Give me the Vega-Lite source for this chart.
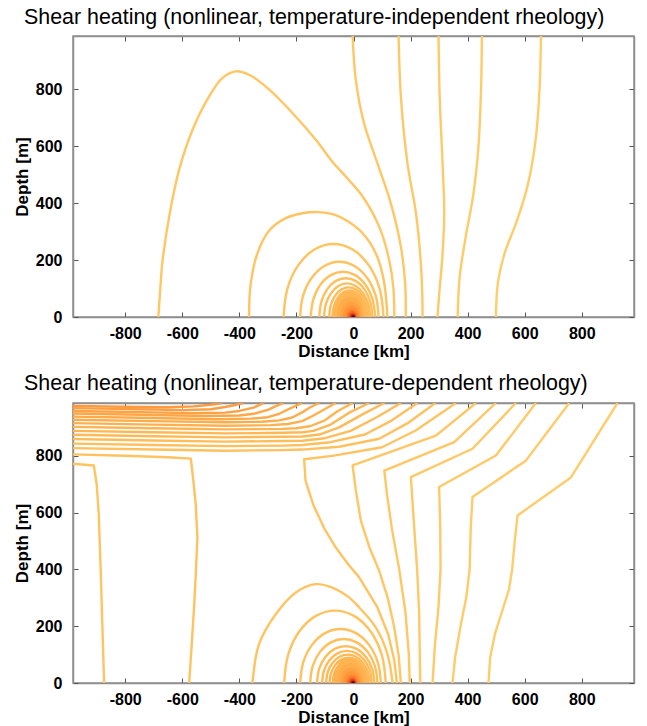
{
"$schema": "https://vega.github.io/schema/vega-lite/v6.json",
"padding": {"left": 12, "top": 6, "right": 5, "bottom": 0},
"background": "white",
"config": {
  "view": {"stroke": "#8f8f8f", "strokeWidth": 1.5},
  "font": "Liberation Sans",
  "axis": {"labelFont": "Liberation Sans", "labelFontSize": 16, "labelFontWeight": "bold", "labelColor": "#000000", "titleFont": "Liberation Sans", "titleFontSize": 17, "titleFontWeight": "bold", "titleColor": "#000000", "domainColor": "#8f8f8f", "domainWidth": 1.5, "tickColor": "#555555", "tickWidth": 1, "tickSize": -5, "grid": false, "zindex": 1, "labelOverlap": false, "labelFlush": false, "labelExpr": "'' + datum.value"},
  "title": {"font": "Liberation Sans", "fontSize": 21.4, "fontWeight": "normal", "color": "#000000", "anchor": "start", "frame": "group", "baseline": "alphabetic"}
},
"datasets": {
"smooth": [
{"p":1,"id":"t5","k":0,"x":657,"y":986,"v":0},{"p":1,"id":"t5","k":1,"x":652,"y":800,"v":0},{"p":1,"id":"t5","k":2,"x":638,"y":620,"v":0},{"p":1,"id":"t5","k":3,"x":610,"y":460,"v":0},{"p":1,"id":"t5","k":4,"x":570,"y":330,"v":0},{"p":1,"id":"t5","k":5,"x":530,"y":225,"v":0},{"p":1,"id":"t5","k":6,"x":506,"y":120,"v":0},{"p":1,"id":"t5","k":7,"x":499,"y":0,"v":0},
{"p":1,"id":"t4","k":0,"x":450,"y":986,"v":0.02},{"p":1,"id":"t4","k":1,"x":447,"y":800,"v":0.02},{"p":1,"id":"t4","k":2,"x":438,"y":600,"v":0.02},{"p":1,"id":"t4","k":3,"x":420,"y":430,"v":0.02},{"p":1,"id":"t4","k":4,"x":393,"y":280,"v":0.02},{"p":1,"id":"t4","k":5,"x":372,"y":140,"v":0.02},{"p":1,"id":"t4","k":6,"x":365,"y":0,"v":0.02},
{"p":1,"id":"t3","k":0,"x":298,"y":986,"v":0.04},{"p":1,"id":"t3","k":1,"x":302,"y":774,"v":0.04},{"p":1,"id":"t3","k":2,"x":312,"y":540,"v":0.04},{"p":1,"id":"t3","k":3,"x":318,"y":364,"v":0.04},{"p":1,"id":"t3","k":4,"x":312,"y":220,"v":0.04},{"p":1,"id":"t3","k":5,"x":302,"y":100,"v":0.04},{"p":1,"id":"t3","k":6,"x":294,"y":0,"v":0.04},
{"p":1,"id":"t2","k":0,"x":158,"y":986,"v":0.06},{"p":1,"id":"t2","k":1,"x":166,"y":774,"v":0.06},{"p":1,"id":"t2","k":2,"x":189,"y":540,"v":0.06},{"p":1,"id":"t2","k":3,"x":219,"y":364,"v":0.06},{"p":1,"id":"t2","k":4,"x":236,"y":188,"v":0.06},{"p":1,"id":"t2","k":5,"x":241,"y":80,"v":0.06},{"p":1,"id":"t2","k":6,"x":242,"y":0,"v":0.06},
{"p":1,"id":"t1","k":0,"x":-3,"y":986,"v":0.08},{"p":1,"id":"t1","k":1,"x":8,"y":832,"v":0.08},{"p":1,"id":"t1","k":2,"x":37,"y":680,"v":0.08},{"p":1,"id":"t1","k":3,"x":84,"y":539,"v":0.08},{"p":1,"id":"t1","k":4,"x":131,"y":398,"v":0.08},{"p":1,"id":"t1","k":5,"x":166,"y":247,"v":0.08},{"p":1,"id":"t1","k":6,"x":181,"y":118,"v":0.08},{"p":1,"id":"t1","k":7,"x":183,"y":0,"v":0.08},
{"p":1,"id":"a1","k":0,"x":-684,"y":0,"v":0.1},{"p":1,"id":"a1","k":1,"x":-677,"y":100,"v":0.1},{"p":1,"id":"a1","k":2,"x":-670,"y":190,"v":0.1},{"p":1,"id":"a1","k":3,"x":-646,"y":352,"v":0.1},{"p":1,"id":"a1","k":4,"x":-611,"y":517,"v":0.1},{"p":1,"id":"a1","k":5,"x":-564,"y":657,"v":0.1},{"p":1,"id":"a1","k":6,"x":-506,"y":774,"v":0.1},{"p":1,"id":"a1","k":7,"x":-459,"y":839,"v":0.1},{"p":1,"id":"a1","k":8,"x":-413,"y":862,"v":0.1},{"p":1,"id":"a1","k":9,"x":-366,"y":850,"v":0.1},{"p":1,"id":"a1","k":10,"x":-295,"y":798,"v":0.1},{"p":1,"id":"a1","k":11,"x":-214,"y":716,"v":0.1},{"p":1,"id":"a1","k":12,"x":-132,"y":622,"v":0.1},{"p":1,"id":"a1","k":13,"x":-74,"y":545,"v":0.1},{"p":1,"id":"a1","k":14,"x":-20,"y":485,"v":0.1},{"p":1,"id":"a1","k":15,"x":32,"y":423,"v":0.1},{"p":1,"id":"a1","k":16,"x":90,"y":317,"v":0.1},{"p":1,"id":"a1","k":17,"x":125,"y":200,"v":0.1},{"p":1,"id":"a1","k":18,"x":140,"y":100,"v":0.1},{"p":1,"id":"a1","k":19,"x":143,"y":0,"v":0.1},
{"p":1,"id":"a2","k":0,"x":-366,"y":0,"v":0.12},{"p":1,"id":"a2","k":1,"x":-361,"y":110,"v":0.12},{"p":1,"id":"a2","k":2,"x":-338,"y":220,"v":0.12},{"p":1,"id":"a2","k":3,"x":-296,"y":303,"v":0.12},{"p":1,"id":"a2","k":4,"x":-237,"y":347,"v":0.12},{"p":1,"id":"a2","k":5,"x":-179,"y":364,"v":0.12},{"p":1,"id":"a2","k":6,"x":-123,"y":368,"v":0.12},{"p":1,"id":"a2","k":7,"x":-70,"y":360,"v":0.12},{"p":1,"id":"a2","k":8,"x":-20,"y":336,"v":0.12},{"p":1,"id":"a2","k":9,"x":32,"y":294,"v":0.12},{"p":1,"id":"a2","k":10,"x":78,"y":224,"v":0.12},{"p":1,"id":"a2","k":11,"x":106,"y":130,"v":0.12},{"p":1,"id":"a2","k":12,"x":119,"y":0,"v":0.12},
{"p":1,"id":"a3","k":0,"x":105,"y":0,"v":0.14},{"p":1,"id":"a3","k":1,"x":92,"y":98,"v":0.14},{"p":1,"id":"a3","k":2,"x":54,"y":181,"v":0.14},{"p":1,"id":"a3","k":3,"x":-3,"y":237,"v":0.14},{"p":1,"id":"a3","k":4,"x":-70,"y":256,"v":0.14},{"p":1,"id":"a3","k":5,"x":-137,"y":237,"v":0.14},{"p":1,"id":"a3","k":6,"x":-194,"y":181,"v":0.14},{"p":1,"id":"a3","k":7,"x":-232,"y":98,"v":0.14},{"p":1,"id":"a3","k":8,"x":-245,"y":0,"v":0.14},
{"p":1,"id":"a4","k":0,"x":88,"y":0,"v":0.16},{"p":1,"id":"a4","k":1,"x":78,"y":74,"v":0.16},{"p":1,"id":"a4","k":2,"x":48,"y":137,"v":0.16},{"p":1,"id":"a4","k":3,"x":3,"y":179,"v":0.16},{"p":1,"id":"a4","k":4,"x":-50,"y":194,"v":0.16},{"p":1,"id":"a4","k":5,"x":-102,"y":179,"v":0.16},{"p":1,"id":"a4","k":6,"x":-147,"y":137,"v":0.16},{"p":1,"id":"a4","k":7,"x":-177,"y":74,"v":0.16},{"p":1,"id":"a4","k":8,"x":-187,"y":0,"v":0.16},
{"p":1,"id":"a5","k":0,"x":76,"y":0,"v":0.18},{"p":1,"id":"a5","k":1,"x":67,"y":61,"v":0.18},{"p":1,"id":"a5","k":2,"x":43,"y":112,"v":0.18},{"p":1,"id":"a5","k":3,"x":6,"y":147,"v":0.18},{"p":1,"id":"a5","k":4,"x":-37,"y":159,"v":0.18},{"p":1,"id":"a5","k":5,"x":-80,"y":147,"v":0.18},{"p":1,"id":"a5","k":6,"x":-117,"y":112,"v":0.18},{"p":1,"id":"a5","k":7,"x":-141,"y":61,"v":0.18},{"p":1,"id":"a5","k":8,"x":-150,"y":0,"v":0.18},
{"p":1,"id":"a6","k":0,"x":66,"y":0,"v":0.2},{"p":1,"id":"a6","k":1,"x":59,"y":52,"v":0.2},{"p":1,"id":"a6","k":2,"x":39,"y":96,"v":0.2},{"p":1,"id":"a6","k":3,"x":9,"y":126,"v":0.2},{"p":1,"id":"a6","k":4,"x":-27,"y":136,"v":0.2},{"p":1,"id":"a6","k":5,"x":-63,"y":126,"v":0.2},{"p":1,"id":"a6","k":6,"x":-93,"y":96,"v":0.2},{"p":1,"id":"a6","k":7,"x":-113,"y":52,"v":0.2},{"p":1,"id":"a6","k":8,"x":-120,"y":0,"v":0.2},
{"p":1,"id":"a7","k":0,"x":58,"y":0,"v":0.22},{"p":1,"id":"a7","k":1,"x":52,"y":45,"v":0.22},{"p":1,"id":"a7","k":2,"x":34,"y":83,"v":0.22},{"p":1,"id":"a7","k":3,"x":8,"y":109,"v":0.22},{"p":1,"id":"a7","k":4,"x":-23,"y":118,"v":0.22},{"p":1,"id":"a7","k":5,"x":-53,"y":109,"v":0.22},{"p":1,"id":"a7","k":6,"x":-79,"y":83,"v":0.22},{"p":1,"id":"a7","k":7,"x":-97,"y":45,"v":0.22},{"p":1,"id":"a7","k":8,"x":-103,"y":0,"v":0.22},
{"p":1,"id":"a8","k":0,"x":52,"y":0,"v":0.24},{"p":1,"id":"a8","k":1,"x":47,"y":40,"v":0.24},{"p":1,"id":"a8","k":2,"x":32,"y":74,"v":0.24},{"p":1,"id":"a8","k":3,"x":10,"y":96,"v":0.24},{"p":1,"id":"a8","k":4,"x":-17,"y":104,"v":0.24},{"p":1,"id":"a8","k":5,"x":-43,"y":96,"v":0.24},{"p":1,"id":"a8","k":6,"x":-65,"y":74,"v":0.24},{"p":1,"id":"a8","k":7,"x":-80,"y":40,"v":0.24},{"p":1,"id":"a8","k":8,"x":-85,"y":0,"v":0.24},
{"p":1,"id":"a9","k":0,"x":46,"y":0,"v":0.26},{"p":1,"id":"a9","k":1,"x":41,"y":36,"v":0.26},{"p":1,"id":"a9","k":2,"x":28,"y":66,"v":0.26},{"p":1,"id":"a9","k":3,"x":9,"y":86,"v":0.26},{"p":1,"id":"a9","k":4,"x":-14,"y":93,"v":0.26},{"p":1,"id":"a9","k":5,"x":-37,"y":86,"v":0.26},{"p":1,"id":"a9","k":6,"x":-56,"y":66,"v":0.26},{"p":1,"id":"a9","k":7,"x":-69,"y":36,"v":0.26},{"p":1,"id":"a9","k":8,"x":-74,"y":0,"v":0.26},
{"p":1,"id":"a10","k":0,"x":41,"y":0,"v":0.28},{"p":1,"id":"a10","k":1,"x":37,"y":32,"v":0.28},{"p":1,"id":"a10","k":2,"x":26,"y":59,"v":0.28},{"p":1,"id":"a10","k":3,"x":9,"y":77,"v":0.28},{"p":1,"id":"a10","k":4,"x":-12,"y":83,"v":0.28},{"p":1,"id":"a10","k":5,"x":-32,"y":77,"v":0.28},{"p":1,"id":"a10","k":6,"x":-49,"y":59,"v":0.28},{"p":1,"id":"a10","k":7,"x":-60,"y":32,"v":0.28},{"p":1,"id":"a10","k":8,"x":-64,"y":0,"v":0.28},
{"p":2,"id":"c2","k":0,"x":-354,"y":0,"v":0.14},{"p":2,"id":"c2","k":1,"x":-331,"y":137,"v":0.14},{"p":2,"id":"c2","k":2,"x":-272,"y":243,"v":0.14},{"p":2,"id":"c2","k":3,"x":-202,"y":319,"v":0.14},{"p":2,"id":"c2","k":4,"x":-132,"y":348,"v":0.14},{"p":2,"id":"c2","k":5,"x":-74,"y":336,"v":0.14},{"p":2,"id":"c2","k":6,"x":-20,"y":305,"v":0.14},{"p":2,"id":"c2","k":7,"x":20,"y":266,"v":0.14},{"p":2,"id":"c2","k":8,"x":78,"y":196,"v":0.14},{"p":2,"id":"c2","k":9,"x":119,"y":102,"v":0.14},{"p":2,"id":"c2","k":10,"x":137,"y":0,"v":0.14},
{"p":2,"id":"c3","k":0,"x":113,"y":0,"v":0.16},{"p":2,"id":"c3","k":1,"x":99.5,"y":97.7,"v":0.16},{"p":2,"id":"c3","k":2,"x":60.8,"y":180.3,"v":0.16},{"p":2,"id":"c3","k":3,"x":3.2,"y":235.6,"v":0.16},{"p":2,"id":"c3","k":4,"x":-65,"y":255,"v":0.16},{"p":2,"id":"c3","k":5,"x":-133.2,"y":235.6,"v":0.16},{"p":2,"id":"c3","k":6,"x":-190.8,"y":180.3,"v":0.16},{"p":2,"id":"c3","k":7,"x":-229.5,"y":97.7,"v":0.16},{"p":2,"id":"c3","k":8,"x":-243,"y":0,"v":0.16},
{"p":2,"id":"c4","k":0,"x":96,"y":0,"v":0.18},{"p":2,"id":"c4","k":1,"x":85.2,"y":72.8,"v":0.18},{"p":2,"id":"c4","k":2,"x":54.5,"y":134.3,"v":0.18},{"p":2,"id":"c4","k":3,"x":8.7,"y":175.6,"v":0.18},{"p":2,"id":"c4","k":4,"x":-45.5,"y":190,"v":0.18},{"p":2,"id":"c4","k":5,"x":-99.7,"y":175.6,"v":0.18},{"p":2,"id":"c4","k":6,"x":-145.5,"y":134.3,"v":0.18},{"p":2,"id":"c4","k":7,"x":-176.2,"y":72.8,"v":0.18},{"p":2,"id":"c4","k":8,"x":-187,"y":0,"v":0.18},
{"p":2,"id":"c5","k":0,"x":84,"y":0,"v":0.2},{"p":2,"id":"c5","k":1,"x":75,"y":59.4,"v":0.2},{"p":2,"id":"c5","k":2,"x":49.4,"y":109.6,"v":0.2},{"p":2,"id":"c5","k":3,"x":11.2,"y":143.2,"v":0.2},{"p":2,"id":"c5","k":4,"x":-34,"y":155,"v":0.2},{"p":2,"id":"c5","k":5,"x":-79.2,"y":143.2,"v":0.2},{"p":2,"id":"c5","k":6,"x":-117.4,"y":109.6,"v":0.2},{"p":2,"id":"c5","k":7,"x":-143,"y":59.4,"v":0.2},{"p":2,"id":"c5","k":8,"x":-152,"y":0,"v":0.2},
{"p":2,"id":"c6","k":0,"x":73,"y":0,"v":0.22},{"p":2,"id":"c6","k":1,"x":65.4,"y":49.8,"v":0.22},{"p":2,"id":"c6","k":2,"x":43.6,"y":91.9,"v":0.22},{"p":2,"id":"c6","k":3,"x":11,"y":120.1,"v":0.22},{"p":2,"id":"c6","k":4,"x":-27.5,"y":130,"v":0.22},{"p":2,"id":"c6","k":5,"x":-66,"y":120.1,"v":0.22},{"p":2,"id":"c6","k":6,"x":-98.6,"y":91.9,"v":0.22},{"p":2,"id":"c6","k":7,"x":-120.4,"y":49.8,"v":0.22},{"p":2,"id":"c6","k":8,"x":-128,"y":0,"v":0.22},
{"p":2,"id":"c7","k":0,"x":64,"y":0,"v":0.24},{"p":2,"id":"c7","k":1,"x":57.4,"y":43.3,"v":0.24},{"p":2,"id":"c7","k":2,"x":38.5,"y":79.9,"v":0.24},{"p":2,"id":"c7","k":3,"x":10.3,"y":104.4,"v":0.24},{"p":2,"id":"c7","k":4,"x":-23,"y":113,"v":0.24},{"p":2,"id":"c7","k":5,"x":-56.3,"y":104.4,"v":0.24},{"p":2,"id":"c7","k":6,"x":-84.5,"y":79.9,"v":0.24},{"p":2,"id":"c7","k":7,"x":-103.4,"y":43.3,"v":0.24},{"p":2,"id":"c7","k":8,"x":-110,"y":0,"v":0.24},
{"p":2,"id":"c8","k":0,"x":56,"y":0,"v":0.26},{"p":2,"id":"c8","k":1,"x":50.2,"y":38.3,"v":0.26},{"p":2,"id":"c8","k":2,"x":33.7,"y":70.7,"v":0.26},{"p":2,"id":"c8","k":3,"x":9.1,"y":92.4,"v":0.26},{"p":2,"id":"c8","k":4,"x":-20,"y":100,"v":0.26},{"p":2,"id":"c8","k":5,"x":-49.1,"y":92.4,"v":0.26},{"p":2,"id":"c8","k":6,"x":-73.7,"y":70.7,"v":0.26},{"p":2,"id":"c8","k":7,"x":-90.2,"y":38.3,"v":0.26},{"p":2,"id":"c8","k":8,"x":-96,"y":0,"v":0.26},
{"p":2,"id":"c9","k":0,"x":49,"y":0,"v":0.28},{"p":2,"id":"c9","k":1,"x":43.9,"y":34.1,"v":0.28},{"p":2,"id":"c9","k":2,"x":29.5,"y":62.9,"v":0.28},{"p":2,"id":"c9","k":3,"x":8,"y":82.2,"v":0.28},{"p":2,"id":"c9","k":4,"x":-17.5,"y":89,"v":0.28},{"p":2,"id":"c9","k":5,"x":-43,"y":82.2,"v":0.28},{"p":2,"id":"c9","k":6,"x":-64.5,"y":62.9,"v":0.28},{"p":2,"id":"c9","k":7,"x":-79,"y":34.1,"v":0.28},{"p":2,"id":"c9","k":8,"x":-84,"y":0,"v":0.28},
{"p":2,"id":"c10","k":0,"x":43,"y":0,"v":0.3},{"p":2,"id":"c10","k":1,"x":38.6,"y":30.3,"v":0.3},{"p":2,"id":"c10","k":2,"x":26,"y":55.9,"v":0.3},{"p":2,"id":"c10","k":3,"x":7.2,"y":73,"v":0.3},{"p":2,"id":"c10","k":4,"x":-15,"y":79,"v":0.3},{"p":2,"id":"c10","k":5,"x":-37.2,"y":73,"v":0.3},{"p":2,"id":"c10","k":6,"x":-56,"y":55.9,"v":0.3},{"p":2,"id":"c10","k":7,"x":-68.6,"y":30.3,"v":0.3},{"p":2,"id":"c10","k":8,"x":-73,"y":0,"v":0.3}
],
"kinked": [
{"id":"b1","k":0,"x":925,"y":986,"v":0},{"id":"b1","k":1,"x":762,"y":724,"v":0},{"id":"b1","k":2,"x":575,"y":590,"v":0},{"id":"b1","k":3,"x":565,"y":500,"v":0},{"id":"b1","k":4,"x":556,"y":400,"v":0},{"id":"b1","k":5,"x":545,"y":330,"v":0},{"id":"b1","k":6,"x":520,"y":250,"v":0},{"id":"b1","k":7,"x":495,"y":170,"v":0},{"id":"b1","k":8,"x":479,"y":90,"v":0},{"id":"b1","k":9,"x":473,"y":0,"v":0},
{"id":"b2","k":0,"x":756,"y":986,"v":0.02},{"id":"b2","k":1,"x":604,"y":783,"v":0.02},{"id":"b2","k":2,"x":417,"y":655,"v":0.02},{"id":"b2","k":3,"x":411,"y":550,"v":0.02},{"id":"b2","k":4,"x":407,"y":400,"v":0.02},{"id":"b2","k":5,"x":395,"y":300,"v":0.02},{"id":"b2","k":6,"x":375,"y":200,"v":0.02},{"id":"b2","k":7,"x":356,"y":90,"v":0.02},{"id":"b2","k":8,"x":347,"y":0,"v":0.02},
{"id":"b3","k":0,"x":639,"y":986,"v":0.04},{"id":"b3","k":1,"x":499,"y":801,"v":0.04},{"id":"b3","k":2,"x":300,"y":690,"v":0.04},{"id":"b3","k":3,"x":304,"y":550,"v":0.04},{"id":"b3","k":4,"x":305,"y":400,"v":0.04},{"id":"b3","k":5,"x":298,"y":270,"v":0.04},{"id":"b3","k":6,"x":285,"y":130,"v":0.04},{"id":"b3","k":7,"x":277,"y":0,"v":0.04},
{"id":"b4","k":0,"x":569,"y":986,"v":0.06},{"id":"b4","k":1,"x":417,"y":825,"v":0.06},{"id":"b4","k":2,"x":201,"y":725,"v":0.06},{"id":"b4","k":3,"x":208,"y":620,"v":0.06},{"id":"b4","k":4,"x":216,"y":500,"v":0.06},{"id":"b4","k":5,"x":223,"y":400,"v":0.06},{"id":"b4","k":6,"x":230,"y":250,"v":0.06},{"id":"b4","k":7,"x":234,"y":0,"v":0.06},
{"id":"b5","k":0,"x":499,"y":986,"v":0.08},{"id":"b5","k":1,"x":353,"y":848,"v":0.08},{"id":"b5","k":2,"x":108,"y":748,"v":0.08},{"id":"b5","k":3,"x":118,"y":660,"v":0.08},{"id":"b5","k":4,"x":135,"y":540,"v":0.08},{"id":"b5","k":5,"x":160,"y":402,"v":0.08},{"id":"b5","k":6,"x":182,"y":250,"v":0.08},{"id":"b5","k":7,"x":194,"y":100,"v":0.08},{"id":"b5","k":8,"x":197,"y":0,"v":0.08},
{"id":"b6","k":0,"x":429,"y":986,"v":0.1},{"id":"b6","k":1,"x":289,"y":871,"v":0.1},{"id":"b6","k":2,"x":-3,"y":766,"v":0.1},{"id":"b6","k":3,"x":8,"y":680,"v":0.1},{"id":"b6","k":4,"x":26,"y":571,"v":0.1},{"id":"b6","k":5,"x":55,"y":480,"v":0.1},{"id":"b6","k":6,"x":90,"y":395,"v":0.1},{"id":"b6","k":7,"x":120,"y":300,"v":0.1},{"id":"b6","k":8,"x":142,"y":200,"v":0.1},{"id":"b6","k":9,"x":158,"y":100,"v":0.1},{"id":"b6","k":10,"x":166,"y":0,"v":0.1},
{"id":"b7","k":0,"x":359,"y":986,"v":0.12},{"id":"b7","k":1,"x":218,"y":889,"v":0.12},{"id":"b7","k":2,"x":100,"y":830,"v":0.12},{"id":"b7","k":3,"x":-74,"y":800,"v":0.12},{"id":"b7","k":4,"x":-173,"y":788,"v":0.12},{"id":"b7","k":5,"x":-168,"y":712,"v":0.12},{"id":"b7","k":6,"x":-140,"y":625,"v":0.12},{"id":"b7","k":7,"x":-100,"y":540,"v":0.12},{"id":"b7","k":8,"x":-62,"y":477,"v":0.12},{"id":"b7","k":9,"x":-20,"y":420,"v":0.12},{"id":"b7","k":10,"x":20,"y":372,"v":0.12},{"id":"b7","k":11,"x":84,"y":266,"v":0.12},{"id":"b7","k":12,"x":122,"y":170,"v":0.12},{"id":"b7","k":13,"x":143,"y":80,"v":0.12},{"id":"b7","k":14,"x":152,"y":0,"v":0.12},
{"id":"l1","k":0,"x":-983,"y":772,"v":0.14},{"id":"l1","k":1,"x":-910,"y":766,"v":0.14},{"id":"l1","k":2,"x":-900,"y":700,"v":0.14},{"id":"l1","k":3,"x":-893,"y":600,"v":0.14},{"id":"l1","k":4,"x":-886,"y":400,"v":0.14},{"id":"l1","k":5,"x":-880,"y":200,"v":0.14},{"id":"l1","k":6,"x":-874,"y":0,"v":0.14},
{"id":"l2","k":0,"x":-983,"y":805,"v":0.16},{"id":"l2","k":1,"x":-800,"y":800,"v":0.16},{"id":"l2","k":2,"x":-650,"y":795,"v":0.16},{"id":"l2","k":3,"x":-570,"y":790,"v":0.16},{"id":"l2","k":4,"x":-560,"y":700,"v":0.16},{"id":"l2","k":5,"x":-553,"y":630,"v":0.16},{"id":"l2","k":6,"x":-547,"y":512,"v":0.16},{"id":"l2","k":7,"x":-552,"y":400,"v":0.16},{"id":"l2","k":8,"x":-558,"y":278,"v":0.16},{"id":"l2","k":9,"x":-566,"y":150,"v":0.16},{"id":"l2","k":10,"x":-576,"y":0,"v":0.16},
{"id":"m01","k":0,"x":-983,"y":827,"v":0.18},{"id":"m01","k":1,"x":-700,"y":822,"v":0.18},{"id":"m01","k":2,"x":-450,"y":818,"v":0.18},{"id":"m01","k":3,"x":-250,"y":820,"v":0.18},{"id":"m01","k":4,"x":-179,"y":822,"v":0.18},{"id":"m01","k":5,"x":-50,"y":832,"v":0.18},{"id":"m01","k":6,"x":90,"y":860,"v":0.18},{"id":"m01","k":7,"x":190,"y":915,"v":0.18},{"id":"m01","k":8,"x":287,"y":986,"v":0.18},
{"id":"m02","k":0,"x":-983,"y":843,"v":0.2},{"id":"m02","k":1,"x":-700,"y":838,"v":0.2},{"id":"m02","k":2,"x":-450,"y":834,"v":0.2},{"id":"m02","k":3,"x":-250,"y":836,"v":0.2},{"id":"m02","k":4,"x":-179,"y":838,"v":0.2},{"id":"m02","k":5,"x":-80,"y":848,"v":0.2},{"id":"m02","k":6,"x":40,"y":875,"v":0.2},{"id":"m02","k":7,"x":135,"y":925,"v":0.2},{"id":"m02","k":8,"x":224,"y":986,"v":0.2},
{"id":"m03","k":0,"x":-983,"y":859,"v":0.22},{"id":"m03","k":1,"x":-700,"y":854,"v":0.22},{"id":"m03","k":2,"x":-450,"y":850,"v":0.22},{"id":"m03","k":3,"x":-250,"y":852,"v":0.22},{"id":"m03","k":4,"x":-179,"y":853,"v":0.22},{"id":"m03","k":5,"x":-100,"y":862,"v":0.22},{"id":"m03","k":6,"x":-10,"y":888,"v":0.22},{"id":"m03","k":7,"x":80,"y":935,"v":0.22},{"id":"m03","k":8,"x":166,"y":986,"v":0.22},
{"id":"m04","k":0,"x":-983,"y":874,"v":0.25},{"id":"m04","k":1,"x":-700,"y":869,"v":0.25},{"id":"m04","k":2,"x":-450,"y":865,"v":0.25},{"id":"m04","k":3,"x":-250,"y":867,"v":0.25},{"id":"m04","k":4,"x":-179,"y":868,"v":0.25},{"id":"m04","k":5,"x":-120,"y":875,"v":0.25},{"id":"m04","k":6,"x":-50,"y":900,"v":0.25},{"id":"m04","k":7,"x":30,"y":945,"v":0.25},{"id":"m04","k":8,"x":108,"y":986,"v":0.25},
{"id":"m05","k":0,"x":-983,"y":888,"v":0.28},{"id":"m05","k":1,"x":-700,"y":883,"v":0.28},{"id":"m05","k":2,"x":-450,"y":879,"v":0.28},{"id":"m05","k":3,"x":-250,"y":881,"v":0.28},{"id":"m05","k":4,"x":-179,"y":883,"v":0.28},{"id":"m05","k":5,"x":-140,"y":888,"v":0.28},{"id":"m05","k":6,"x":-80,"y":910,"v":0.28},{"id":"m05","k":7,"x":-15,"y":952,"v":0.28},{"id":"m05","k":8,"x":55,"y":986,"v":0.28},
{"id":"m06","k":0,"x":-983,"y":902,"v":0.31},{"id":"m06","k":1,"x":-700,"y":897,"v":0.31},{"id":"m06","k":2,"x":-450,"y":893,"v":0.31},{"id":"m06","k":3,"x":-250,"y":895,"v":0.31},{"id":"m06","k":4,"x":-200,"y":897,"v":0.31},{"id":"m06","k":5,"x":-150,"y":905,"v":0.31},{"id":"m06","k":6,"x":-100,"y":925,"v":0.31},{"id":"m06","k":7,"x":-55,"y":958,"v":0.31},{"id":"m06","k":8,"x":-3,"y":986,"v":0.31},
{"id":"m07","k":0,"x":-983,"y":915,"v":0.34},{"id":"m07","k":1,"x":-700,"y":910,"v":0.34},{"id":"m07","k":2,"x":-450,"y":906,"v":0.34},{"id":"m07","k":3,"x":-290,"y":908,"v":0.34},{"id":"m07","k":4,"x":-230,"y":912,"v":0.34},{"id":"m07","k":5,"x":-180,"y":922,"v":0.34},{"id":"m07","k":6,"x":-140,"y":942,"v":0.34},{"id":"m07","k":7,"x":-100,"y":965,"v":0.34},{"id":"m07","k":8,"x":-62,"y":986,"v":0.34},
{"id":"m08","k":0,"x":-983,"y":927,"v":0.37},{"id":"m08","k":1,"x":-700,"y":922,"v":0.37},{"id":"m08","k":2,"x":-450,"y":918,"v":0.37},{"id":"m08","k":3,"x":-320,"y":920,"v":0.37},{"id":"m08","k":4,"x":-260,"y":925,"v":0.37},{"id":"m08","k":5,"x":-215,"y":935,"v":0.37},{"id":"m08","k":6,"x":-180,"y":953,"v":0.37},{"id":"m08","k":7,"x":-150,"y":972,"v":0.37},{"id":"m08","k":8,"x":-120,"y":986,"v":0.37},
{"id":"m09","k":0,"x":-983,"y":938,"v":0.4},{"id":"m09","k":1,"x":-700,"y":933,"v":0.4},{"id":"m09","k":2,"x":-480,"y":929,"v":0.4},{"id":"m09","k":3,"x":-360,"y":931,"v":0.4},{"id":"m09","k":4,"x":-300,"y":936,"v":0.4},{"id":"m09","k":5,"x":-260,"y":948,"v":0.4},{"id":"m09","k":6,"x":-220,"y":968,"v":0.4},{"id":"m09","k":7,"x":-180,"y":986,"v":0.4},
{"id":"m10","k":0,"x":-983,"y":949,"v":0.43},{"id":"m10","k":1,"x":-700,"y":944,"v":0.43},{"id":"m10","k":2,"x":-520,"y":940,"v":0.43},{"id":"m10","k":3,"x":-400,"y":942,"v":0.43},{"id":"m10","k":4,"x":-350,"y":948,"v":0.43},{"id":"m10","k":5,"x":-300,"y":962,"v":0.43},{"id":"m10","k":6,"x":-270,"y":976,"v":0.43},{"id":"m10","k":7,"x":-245,"y":986,"v":0.43},
{"id":"m11","k":0,"x":-983,"y":958,"v":0.46},{"id":"m11","k":1,"x":-700,"y":953,"v":0.46},{"id":"m11","k":2,"x":-560,"y":950,"v":0.46},{"id":"m11","k":3,"x":-450,"y":952,"v":0.46},{"id":"m11","k":4,"x":-400,"y":958,"v":0.46},{"id":"m11","k":5,"x":-350,"y":970,"v":0.46},{"id":"m11","k":6,"x":-315,"y":986,"v":0.46},
{"id":"m12","k":0,"x":-983,"y":968,"v":0.49},{"id":"m12","k":1,"x":-700,"y":963,"v":0.49},{"id":"m12","k":2,"x":-600,"y":961,"v":0.49},{"id":"m12","k":3,"x":-500,"y":964,"v":0.49},{"id":"m12","k":4,"x":-450,"y":972,"v":0.49},{"id":"m12","k":5,"x":-410,"y":980,"v":0.49},{"id":"m12","k":6,"x":-385,"y":986,"v":0.49},
{"id":"m13","k":0,"x":-983,"y":976,"v":0.52},{"id":"m13","k":1,"x":-750,"y":972,"v":0.52},{"id":"m13","k":2,"x":-650,"y":971,"v":0.52},{"id":"m13","k":3,"x":-560,"y":974,"v":0.52},{"id":"m13","k":4,"x":-500,"y":980,"v":0.52},{"id":"m13","k":5,"x":-460,"y":986,"v":0.52}
],
"fill": [
{"id":"f1","x":-74,"y":0,"v":0.3},{"id":"f1","x":-69.4,"y":34.5,"v":0.3},{"id":"f1","x":-56.4,"y":63.6,"v":0.3},{"id":"f1","x":-37,"y":83.2,"v":0.3},{"id":"f1","x":-14,"y":90,"v":0.3},{"id":"f1","x":9,"y":83.2,"v":0.3},{"id":"f1","x":28.4,"y":63.6,"v":0.3},{"id":"f1","x":41.4,"y":34.5,"v":0.3},{"id":"f1","x":46,"y":0,"v":0.3},
{"id":"f2","x":-59,"y":0,"v":0.38},{"id":"f2","x":-55.4,"y":26.8,"v":0.38},{"id":"f2","x":-44.9,"y":49.5,"v":0.38},{"id":"f2","x":-29.4,"y":64.7,"v":0.38},{"id":"f2","x":-11,"y":70,"v":0.38},{"id":"f2","x":7.4,"y":64.7,"v":0.38},{"id":"f2","x":22.9,"y":49.5,"v":0.38},{"id":"f2","x":33.4,"y":26.8,"v":0.38},{"id":"f2","x":37,"y":0,"v":0.38},
{"id":"f3","x":-47,"y":0,"v":0.46},{"id":"f3","x":-44.1,"y":20.7,"v":0.46},{"id":"f3","x":-35.9,"y":38.2,"v":0.46},{"id":"f3","x":-23.6,"y":49.9,"v":0.46},{"id":"f3","x":-9,"y":54,"v":0.46},{"id":"f3","x":5.6,"y":49.9,"v":0.46},{"id":"f3","x":17.9,"y":38.2,"v":0.46},{"id":"f3","x":26.1,"y":20.7,"v":0.46},{"id":"f3","x":29,"y":0,"v":0.46},
{"id":"f4","x":-37,"y":0,"v":0.55},{"id":"f4","x":-34.7,"y":15.7,"v":0.55},{"id":"f4","x":-28.2,"y":29,"v":0.55},{"id":"f4","x":-18.5,"y":37.9,"v":0.55},{"id":"f4","x":-7,"y":41,"v":0.55},{"id":"f4","x":4.5,"y":37.9,"v":0.55},{"id":"f4","x":14.2,"y":29,"v":0.55},{"id":"f4","x":20.7,"y":15.7,"v":0.55},{"id":"f4","x":23,"y":0,"v":0.55},
{"id":"f5","x":-28,"y":0,"v":0.64},{"id":"f5","x":-26.3,"y":11.5,"v":0.64},{"id":"f5","x":-21.3,"y":21.2,"v":0.64},{"id":"f5","x":-13.8,"y":27.7,"v":0.64},{"id":"f5","x":-5,"y":30,"v":0.64},{"id":"f5","x":3.8,"y":27.7,"v":0.64},{"id":"f5","x":11.3,"y":21.2,"v":0.64},{"id":"f5","x":16.3,"y":11.5,"v":0.64},{"id":"f5","x":18,"y":0,"v":0.64},
{"id":"f6","x":-21,"y":0,"v":0.73},{"id":"f6","x":-19.7,"y":8,"v":0.73},{"id":"f6","x":-16,"y":14.8,"v":0.73},{"id":"f6","x":-10.5,"y":19.4,"v":0.73},{"id":"f6","x":-4,"y":21,"v":0.73},{"id":"f6","x":2.5,"y":19.4,"v":0.73},{"id":"f6","x":8,"y":14.8,"v":0.73},{"id":"f6","x":11.7,"y":8,"v":0.73},{"id":"f6","x":13,"y":0,"v":0.73},
{"id":"f7","x":-15,"y":0,"v":0.82},{"id":"f7","x":-14.1,"y":5.4,"v":0.82},{"id":"f7","x":-11.5,"y":9.9,"v":0.82},{"id":"f7","x":-7.6,"y":12.9,"v":0.82},{"id":"f7","x":-3,"y":14,"v":0.82},{"id":"f7","x":1.6,"y":12.9,"v":0.82},{"id":"f7","x":5.5,"y":9.9,"v":0.82},{"id":"f7","x":8.1,"y":5.4,"v":0.82},{"id":"f7","x":9,"y":0,"v":0.82},
{"id":"f8","x":-10,"y":0,"v":0.9},{"id":"f8","x":-9.4,"y":3.4,"v":0.9},{"id":"f8","x":-7.7,"y":6.4,"v":0.9},{"id":"f8","x":-5.1,"y":8.3,"v":0.9},{"id":"f8","x":-2,"y":9,"v":0.9},{"id":"f8","x":1.1,"y":8.3,"v":0.9},{"id":"f8","x":3.7,"y":6.4,"v":0.9},{"id":"f8","x":5.4,"y":3.4,"v":0.9},{"id":"f8","x":6,"y":0,"v":0.9},
{"id":"f9","x":-6,"y":0,"v":1},{"id":"f9","x":-4.5,"y":3.9,"v":1},{"id":"f9","x":-1,"y":5.5,"v":1},{"id":"f9","x":2.5,"y":3.9,"v":1},{"id":"f9","x":4,"y":0,"v":1}
]
},
"spacing": 12,
"vconcat": [
{
  "width": 561, "height": 281,
  "title": {"text": "Shear heating (nonlinear, temperature-independent rheology)", "dx": -49, "offset": 7},
  "layer": [
    {"data": {"name": "fill"},
     "mark": {"type": "area", "interpolate": "monotone", "clip": true},
     "encoding": {
       "x": {"field": "x", "type": "quantitative", "scale": {"domain": [-983, 983], "nice": false, "zero": false}, "axis": {"orient": "top", "values": [-800,-600,-400,-200,0,200,400,600,800], "labels": false, "title": null}},
       "y": {"field": "y", "type": "quantitative", "stack": null, "scale": {"domain": [0, 986], "nice": false}, "axis": {"orient": "right", "values": [0,200,400,600,800], "labels": false, "title": null}},
       "detail": {"field": "id"},
       "color": {"field": "v", "type": "quantitative", "scale": {"domain": [0,0.2,0.45,0.65,0.8,0.9,1], "range": ["#ffcc6a","#ffbf5c","#ffa445","#ff8430","#ea4d1a","#b51a0a","#4d0000"]}, "legend": null}
     }},
    {"data": {"name": "smooth"}, "transform": [{"filter": "datum.p == 1"}],
     "mark": {"type": "line", "interpolate": "catmull-rom", "strokeWidth": 2.4, "clip": true},
     "encoding": {
       "x": {"field": "x", "type": "quantitative", "scale": {"domain": [-983, 983], "nice": false, "zero": false}, "axis": {"orient": "bottom", "values": [-800,-600,-400,-200,0,200,400,600,800], "title": "Distance [km]", "labelPadding": 13, "titlePadding": 2}},
       "y": {"field": "y", "type": "quantitative", "scale": {"domain": [0, 986], "nice": false}, "axis": {"orient": "left", "values": [0,200,400,600,800], "title": "Depth [m]", "labelPadding": 16, "titlePadding": 4}},
       "detail": {"field": "id"},
       "order": {"field": "k"},
       "color": {"field": "v", "type": "quantitative", "scale": {"domain": [0,0.2,0.45,0.65,0.8,0.9,1], "range": ["#ffcc6a","#ffbf5c","#ffa445","#ff8430","#ea4d1a","#b51a0a","#4d0000"]}, "legend": null}
     }}
  ],
  "resolve": {"axis": {"x": "independent", "y": "independent"}}
},
{
  "width": 561, "height": 280,
  "title": {"text": "Shear heating (nonlinear, temperature-dependent rheology)", "dx": -49, "offset": 8},
  "layer": [
    {"data": {"name": "fill"},
     "mark": {"type": "area", "interpolate": "monotone", "clip": true},
     "encoding": {
       "x": {"field": "x", "type": "quantitative", "scale": {"domain": [-983, 983], "nice": false, "zero": false}, "axis": {"orient": "top", "values": [-800,-600,-400,-200,0,200,400,600,800], "labels": false, "title": null}},
       "y": {"field": "y", "type": "quantitative", "stack": null, "scale": {"domain": [0, 986], "nice": false}, "axis": {"orient": "right", "values": [0,200,400,600,800], "labels": false, "title": null}},
       "detail": {"field": "id"},
       "color": {"field": "v", "type": "quantitative", "scale": {"domain": [0,0.2,0.45,0.65,0.8,0.9,1], "range": ["#ffcc6a","#ffbf5c","#ffa445","#ff8430","#ea4d1a","#b51a0a","#4d0000"]}, "legend": null}
     }},
    {"data": {"name": "smooth"}, "transform": [{"filter": "datum.p == 2"}],
     "mark": {"type": "line", "interpolate": "catmull-rom", "strokeWidth": 2.4, "clip": true},
     "encoding": {
       "x": {"field": "x", "type": "quantitative", "scale": {"domain": [-983, 983], "nice": false, "zero": false}, "axis": {"orient": "bottom", "values": [-800,-600,-400,-200,0,200,400,600,800], "title": "Distance [km]", "labelPadding": 13, "titlePadding": 2}},
       "y": {"field": "y", "type": "quantitative", "scale": {"domain": [0, 986], "nice": false}, "axis": {"orient": "left", "values": [0,200,400,600,800], "title": "Depth [m]", "labelPadding": 16, "titlePadding": 4}},
       "detail": {"field": "id"},
       "order": {"field": "k"},
       "color": {"field": "v", "type": "quantitative", "scale": {"domain": [0,0.2,0.45,0.65,0.8,0.9,1], "range": ["#ffcc6a","#ffbf5c","#ffa445","#ff8430","#ea4d1a","#b51a0a","#4d0000"]}, "legend": null}
     }},
    {"data": {"name": "kinked"},
     "mark": {"type": "line", "interpolate": "linear", "strokeWidth": 2.4, "clip": true, "strokeJoin": "round"},
     "encoding": {
       "x": {"field": "x", "type": "quantitative", "scale": {"domain": [-983, 983], "nice": false, "zero": false}, "axis": null},
       "y": {"field": "y", "type": "quantitative", "scale": {"domain": [0, 986], "nice": false}, "axis": null},
       "detail": {"field": "id"},
       "order": {"field": "k"},
       "color": {"field": "v", "type": "quantitative", "scale": {"domain": [0,0.2,0.45,0.65,0.8,0.9,1], "range": ["#ffcc6a","#ffbf5c","#ffa445","#ff8430","#ea4d1a","#b51a0a","#4d0000"]}, "legend": null}
     }}
  ],
  "resolve": {"axis": {"x": "independent", "y": "independent"}}
}
]
}
